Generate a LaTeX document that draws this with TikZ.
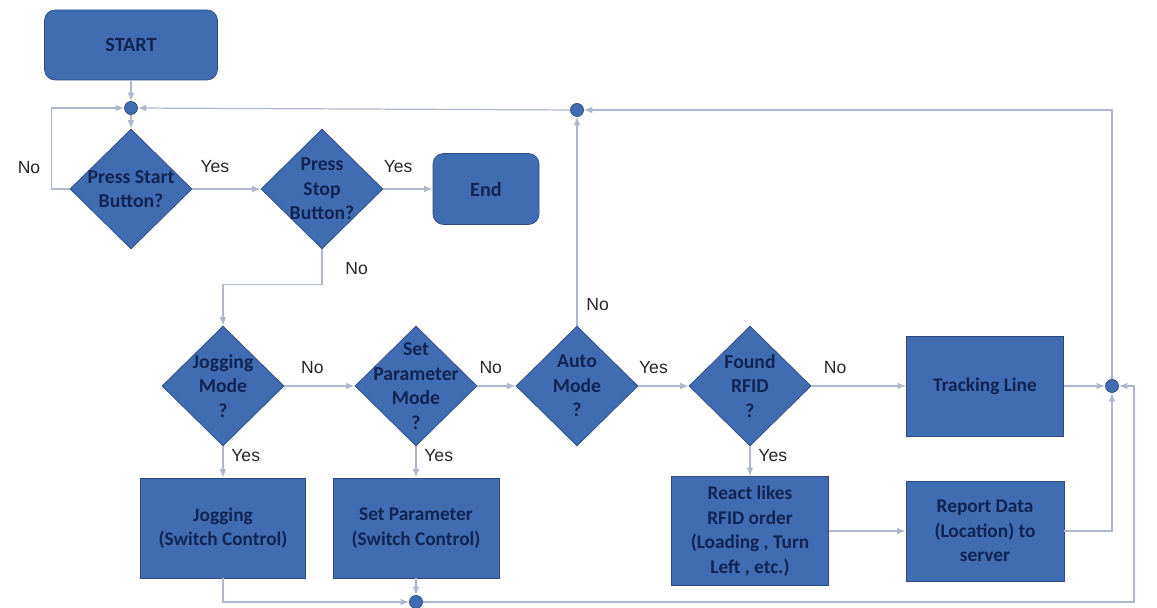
\documentclass[tikz,border=0pt]{standalone}
\usepackage{fontspec}
\setmainfont{Carlito}
\newfontfamily\answerfont{Liberation Sans}
\usepackage{tikz}
\usetikzlibrary{shapes,arrows}
\definecolor{boxblue}{HTML}{406DB2}
\definecolor{boxedge}{HTML}{2C4A80}
\definecolor{boxtext}{HTML}{122452}
\definecolor{flowline}{HTML}{AEB7CC}
\tikzstyle{decision} = [diamond, aspect=1, draw=boxedge, fill=boxblue,
    minimum width=2.44cm, minimum height=2.4cm, inner sep=0pt]
\tikzstyle{dtext} = [text=boxtext, align=center, font=\fontsize{11.2}{14}\selectfont\bfseries, inner sep=0pt]
\tikzstyle{block} = [rectangle, draw=boxedge, fill=boxblue, text=boxtext,
    align=center, font=\fontsize{11}{14}\selectfont\bfseries,
    minimum width=3.2cm, minimum height=2cm, inner sep=2pt]
\tikzstyle{terminal} = [block, rounded corners=6pt, font=\fontsize{11.5}{14}\selectfont\bfseries]
\tikzstyle{junction} = [circle, draw=boxedge, fill=boxblue, minimum size=0.26cm, inner sep=0pt]
\tikzstyle{answer} = [font=\answerfont\fontsize{10}{12}\selectfont, text=black!85, inner sep=1pt]
\tikzstyle{arrow} = [draw=flowline, -latex, line width=0.7pt]

\begin{document}
\begin{tikzpicture}[node distance = 2cm]
    \useasboundingbox (0,0) rectangle (23.14,-12.16);
    % Place nodes
    \node [terminal, minimum width=3.46cm, minimum height=1.4cm] at (2.62,-0.9) (start) {START};
    \node [junction, below of=start, node distance=1.26cm] (merge1) {};
    \node [decision, below of=merge1, node distance=1.62cm,
        label={[dtext]center:Press Start\\Button?}] (pressStart) {};
    \node [decision, right of=pressStart, node distance=3.82cm,
        label={[dtext]center:Press\\Stop\\Button?}] (pressStop) {};
    \node [terminal, right of=pressStop, node distance=3.28cm,
        minimum width=2.12cm, minimum height=1.42cm] (finish) {End};
    \node [decision, label={[dtext]center:Jogging\\Mode\\?}] at (4.46,-7.72) (jogMode) {};
    \node [decision, right of=jogMode, node distance=3.86cm,
        label={[dtext]center:Set\\Parameter\\Mode\\?}] (setMode) {};
    \node [decision, right of=setMode, node distance=3.22cm,
        label={[dtext]center:Auto\\Mode\\?}] (autoMode) {};
    \node [decision, right of=autoMode, node distance=3.46cm,
        label={[dtext]center:Found\\RFID\\?}] (foundRfid) {};
    \node [block, right of=foundRfid, node distance=4.7cm, minimum width=3.14cm] (tracking) {Tracking Line};
    \node [junction, right of=tracking, node distance=2.54cm] (merge3) {};
    \coordinate [right of=merge3, node distance=0.44cm] (rail);
    \node [junction, above of=autoMode, node distance=5.52cm] (merge2) {};
    \node [block, below of=jogMode, node distance=2.84cm, minimum width=3.3cm] (jogging) {Jogging\\(Switch Control)};
    \node [block, below of=setMode, node distance=2.84cm, minimum width=3.32cm] (setParam) {Set Parameter\\(Switch Control)};
    \node [block, below of=foundRfid, node distance=2.9cm, minimum width=3.14cm,
        minimum height=2.18cm] (react) {React likes\\RFID order\\(Loading , Turn\\Left , etc.)};
    \node [block, below of=tracking, node distance=2.9cm, minimum width=3.16cm] (report) {Report Data\\(Location) to\\server};
    \node [junction, below of=setParam, node distance=1.48cm] (merge4) {};

    \path [arrow] (start) -- (merge1);
    \path [arrow] (merge1) -- (pressStart);
    \path [arrow] (pressStart.west) -- ++(-0.36,0) |- node [answer, pos=0.135, left=0.18cm] {No} (merge1);
    \path [arrow] (pressStart) -- node [answer, pos=0.33, above=0.28cm] {Yes} (pressStop);
    \path [arrow] (pressStop) -- node [answer, pos=0.3, above=0.28cm] {Yes} (finish);
    \path [arrow] (pressStop.south) -- node [answer, pos=0.55, right=0.42cm] {No} ++(0,-0.7) -| (jogMode.north);
    \path [arrow] (jogMode) -- node [answer, pos=0.4, above=0.2cm] {No} (setMode);
    \path [arrow] (setMode) -- node [answer, pos=0.35, above=0.2cm] {No} (autoMode);
    \path [arrow] (autoMode) -- node [answer, pos=0.3, above=0.2cm] {Yes} (foundRfid);
    \path [arrow] (foundRfid) -- node [answer, pos=0.25, above=0.2cm] {No} (tracking);
    \path [arrow] (tracking) -- (merge3);
    \path [arrow] (autoMode) -- node [answer, pos=0.1, right=0.14cm] {No} (merge2);
    \path [arrow] (merge2) -- (merge1);
    \path [arrow] (merge3) |- (merge2);
    \path [arrow] (jogMode) -- node [answer, pos=0.3, right=0.12cm] {Yes} (jogging);
    \path [arrow] (setMode) -- node [answer, pos=0.3, right=0.12cm] {Yes} (setParam);
    \path [arrow] (foundRfid) -- node [answer, pos=0.3, right=0.12cm] {Yes} (react);
    \path [arrow] (react) -- (report);
    \path [arrow] (report) -| (merge3);
    \path [arrow] (jogging) |- (merge4);
    \path [arrow] (setParam) -- (merge4);
    \path [arrow] (merge4) -| (rail) -- (merge3);
\end{tikzpicture}
\end{document}
